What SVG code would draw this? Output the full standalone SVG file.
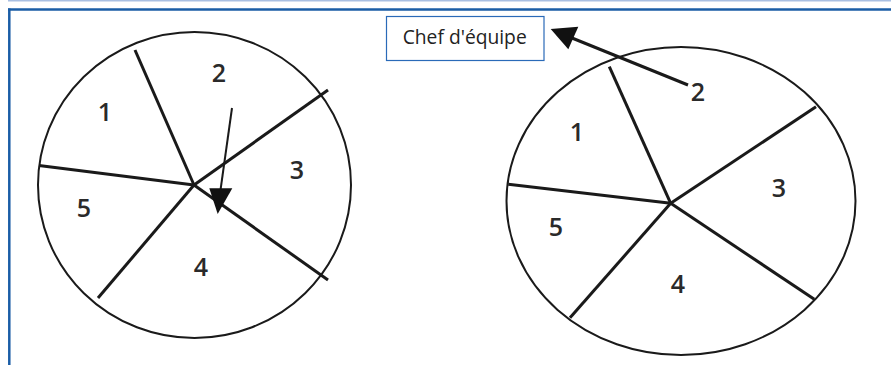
<svg xmlns="http://www.w3.org/2000/svg" width="891" height="365" viewBox="0 0 891 365">
<style>
.circ{fill:none;stroke:#1a1a1a;stroke-width:2}
.spoke{stroke:#1a1a1a;stroke-width:3;stroke-linecap:butt}
.lbl{font-family:"Open Sans","Liberation Sans",sans-serif;font-size:25px;font-weight:600;fill:#2a2a2a;text-anchor:middle}
.head{fill:#111}
</style>
<rect x="0" y="0" width="891" height="365" fill="#fff"/>
<g id="frame">
<line x1="8" y1="0.5" x2="891" y2="0.5" stroke="#a9bfe2" stroke-width="2"/>
<line x1="8" y1="9.5" x2="891" y2="9.5" stroke="#1a5da6" stroke-width="2.5"/>
<line x1="9.3" y1="8.5" x2="9.3" y2="365" stroke="#1a5da6" stroke-width="2.5"/>
</g>
<g id="circle-left">
<ellipse class="circ" cx="194.5" cy="185" rx="156.5" ry="153"/>
<line class="spoke" x1="194" y1="185" x2="135" y2="50"/>
<line class="spoke" x1="194" y1="185" x2="328" y2="90"/>
<line class="spoke" x1="194" y1="185" x2="39" y2="165.5"/>
<line class="spoke" x1="194" y1="185" x2="328" y2="280"/>
<line class="spoke" x1="194" y1="185" x2="98" y2="298"/>
<text class="lbl" x="105" y="121">1</text>
<text class="lbl" x="219" y="82">2</text>
<text class="lbl" x="297" y="179">3</text>
<text class="lbl" x="84" y="217">5</text>
<text class="lbl" x="201" y="276">4</text>
</g>
<g id="circle-right">
<ellipse class="circ" cx="681" cy="201" rx="174.5" ry="154"/>
<line class="spoke" x1="670.7" y1="203.3" x2="609.3" y2="66.7"/>
<line class="spoke" x1="670.7" y1="203.3" x2="816" y2="106.7"/>
<line class="spoke" x1="670.7" y1="203.3" x2="508.3" y2="184.3"/>
<line class="spoke" x1="670.7" y1="203.3" x2="814.3" y2="299.3"/>
<line class="spoke" x1="670.7" y1="203.3" x2="570" y2="317.7"/>
<text class="lbl" x="577" y="140.5">1</text>
<text class="lbl" x="698" y="100.5">2</text>
<text class="lbl" x="779" y="197">3</text>
<text class="lbl" x="556" y="235.5">5</text>
<text class="lbl" x="678" y="293">4</text>
</g>
<g id="chef">
<rect x="386.5" y="16.5" width="157.5" height="44" fill="#fff" stroke="#2a6ab8" stroke-width="1.2"/>
<text x="402.7" y="44" font-family="'Open Sans','Liberation Sans',sans-serif" font-size="20.5" fill="#222" textLength="124" lengthAdjust="spacingAndGlyphs">Chef d'équipe</text>
</g>
<g id="connectors">
<line x1="232" y1="108" x2="220.5" y2="190" stroke="#1a1a1a" stroke-width="2"/>
<polygon class="head" points="209.3,188.3 232.3,188.3 217.7,214"/>
<line x1="688" y1="85" x2="572" y2="38" stroke="#1a1a1a" stroke-width="3"/>
<polygon class="head" points="550.7,29 578.3,26.7 568.3,49.3"/>
</g>
</svg>
